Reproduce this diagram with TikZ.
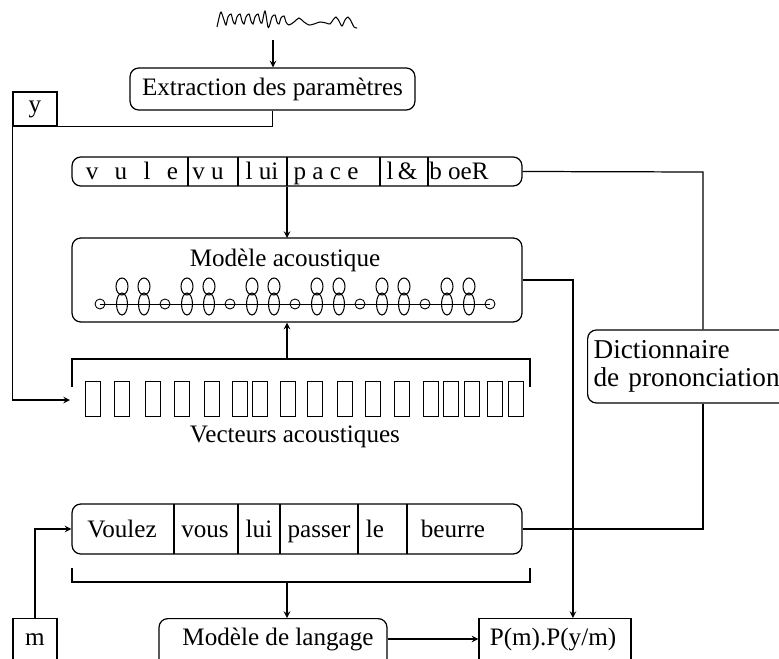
\documentclass[tikz,border=0pt]{standalone}
\usepackage{fontspec}
\setmainfont{Liberation Serif}

\begin{document}
\begin{tikzpicture}[x=0.02cm,y=-0.02cm,>=stealth,line width=0.7pt,
    font=\fontsize{14.3}{17}\selectfont,
    bloc/.style={draw,rounded corners=5pt,inner sep=0pt},
    cadre/.style={draw,inner sep=0pt},
    mot/.style={anchor=base,inner sep=0pt},
    vecteur/.style={draw,line width=0.5pt,minimum width=0.30cm,
        minimum height=0.70cm,inner sep=0pt}]
    \useasboundingbox (0,0) rectangle (779,659);

    % Signal et extraction des parametres.
    \draw[line width=0.6pt] plot[smooth,tension=0.5] coordinates {
        (217,27) (219,18) (221,12) (224,20) (226,25) (228,17) (231,14)
        (233,21) (235,24) (237,17) (240,14) (242,21) (244,24) (246,17)
        (249,14) (251,21) (253,24) (255,17) (258,14) (260,21) (262,23)
        (265,11) (268,27) (270,24) (272,17) (275,15) (277,22) (279,24)
        (281,18) (284,16) (286,22) (289,25) (294,22) (299,18) (304,22)
        (309,25) (314,24) (320,22) (326,23) (330,24) (333,20) (336,17)
        (339,21) (342,26) (345,20) (348,17) (351,21) (354,27) (357,28)};
    \coordinate (signal) at (273,40);
    \node[bloc,minimum width=5.70cm,minimum height=0.84cm] (extr)
        at (272.5,89) {Extraction des paramètres};
    \draw[->] (signal) -- (signal |- extr.north);
    \node[cadre,minimum width=0.88cm,minimum height=0.68cm] (ybox)
        at (35,109) {y};
    \coordinate (entree) at (70,400);
    \draw[->] (extr.south) |- (ybox.south west) |- (entree);

    % Suite phonetique.
    \node[bloc,minimum width=9.00cm,minimum height=0.58cm] (phon)
        at (297,171.5) {};
    \foreach \xx in {188,238,287,380,428}
        \draw (\xx,157) -- (\xx,186);
    \node[mot] at (132,179) {v\hspace{0.65em}u\hspace{0.65em}l\hspace{0.65em}e};
    \node[mot] at (208,179) {v u};
    \node[mot] at (262,179) {l ui};
    \node[mot] at (326,179) {p a c e};
    \node[mot] at (402,179) {l\,\&};
    \node[mot] at (459,179) {b oeR};
    \draw[->] ([xshift=-0.2cm]phon.south) -- ([xshift=-0.2cm]phon.south |- 0,238);

    % Modele acoustique.
    \node[bloc,minimum width=9.00cm,minimum height=1.68cm] (acou)
        at (297,280) {};
    \node[mot] (acoutitre) at (285,266) {Modèle acoustique};
    \draw[line width=0.5pt] (100,304) -- (490,304);
    \foreach \k in {0,...,5} {
        \draw[line width=0.5pt] (100+65*\k,304) circle (5);
        \foreach \d in {22,44} {
            \draw[line width=0.6pt] (100+65*\k+\d,286.5) ellipse (6 and 8.5);
            \draw[line width=0.6pt] (100+65*\k+\d,304) ellipse (5.5 and 11);
        }
    }
    \draw[line width=0.5pt] (490,304) circle (5);

    % Vecteurs acoustiques.
    \foreach \xx [count=\i] in {85,114,145,174,204,232,252,280,307,337,
                               365,394,423,443,464,487,508}
        \node[vecteur] (v\i) at (\xx+7.5,398.5) {};
    \draw (72,387) |- (530,359) -- (530,387);
    \coordinate (crochetv) at (287,359);
    \draw[->] (crochetv) -- (crochetv |- acou.south);
    \node (vectitre) at (295,437) {Vecteurs acoustiques};

    % Dictionnaire de prononciation.
    \node[bloc,anchor=west,font=\fontsize{15.5}{16}\selectfont,
        minimum height=1.46cm,text width=4.0cm,align=left,inner xsep=0.12cm]
        (dict) at (587,366.5) {Dictionnaire\\de prononciation};
    \coordinate (coudedict) at (703,172);
    \draw (phon.east) -- (coudedict) -- (coudedict |- dict.north);

    % Phrase et modele de langage.
    \node[bloc,minimum width=9.00cm,minimum height=1.00cm] (phrase)
        at (297,529) {};
    \foreach \xx in {174,238,280,358,407}
        \draw (\xx,504) -- (\xx,554);
    \node[mot] at (122,537) {Voulez};
    \node[mot] at (205,537) {vous};
    \node[mot] at (259,537) {lui};
    \node[mot] at (319,537) {passer};
    \node[mot] at (375,537) {le};
    \node[mot] at (453,537) {beurre};
    \draw (dict.south -| coudedict) |- (phrase.east);
    \draw (72,568) |- (530,582) -- (530,568);
    \coordinate (crochetp) at (287,582);

    \node[bloc,minimum width=4.56cm,minimum height=1.2cm,anchor=north]
        (lang) at (273,618) {};
    \node[mot] (langtexte) at (278,645) {Modèle de langage};
    \draw[->] (crochetp) -- (crochetp |- lang.north);
    \node[cadre,minimum width=0.88cm,minimum height=1.2cm,anchor=north]
        (mbox) at (35,618) {};
    \node[mot] at (35,645) {m};
    \draw[->] (mbox.north) |- (phrase.west);
    \node[cadre,minimum width=3.04cm,minimum height=1.2cm,anchor=north]
        (pm) at (555,618) {};
    \node[mot] (pmtexte) at (553,645) {P(m).P(y/m)};
    \draw[->] (acou.east) -| ([xshift=0.36cm]pm.north);
    \draw[->] (lang.east |- langtexte) -- (pm.west |- langtexte);
\end{tikzpicture}
\end{document}
